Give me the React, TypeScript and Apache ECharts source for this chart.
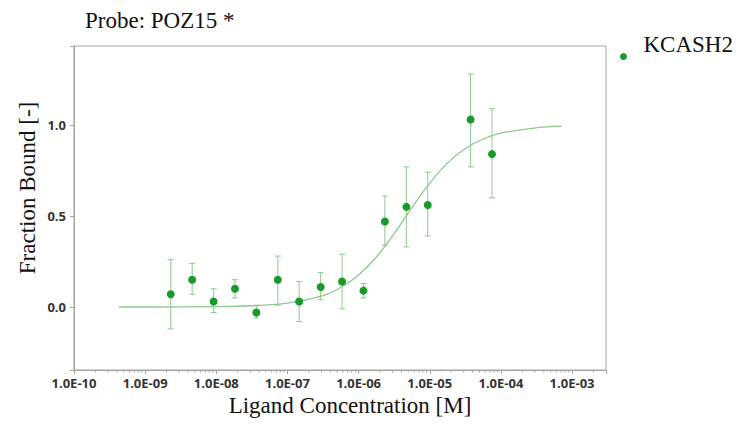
import React, { useEffect, useRef } from 'react';
import * as echarts from 'echarts';

// Ligand concentrations [M] (2-fold dilution series)
const concentrations = [2.29e-9, 4.58e-9, 9.16e-9, 1.83e-8, 3.66e-8, 7.32e-8, 1.46e-7, 2.93e-7, 5.86e-7, 1.17e-6, 2.34e-6, 4.69e-6, 9.38e-6, 3.75e-5, 7.5e-5];
const fractionBound = [0.07, 0.15, 0.03, 0.10, -0.03, 0.15, 0.03, 0.11, 0.14, 0.09, 0.47, 0.55, 0.56, 1.03, 0.84];
const errLow = [-0.12, 0.07, -0.03, 0.05, -0.06, 0.01, -0.08, 0.04, -0.01, 0.05, 0.34, 0.33, 0.39, 0.77, 0.60];
const errHigh = [0.26, 0.24, 0.10, 0.15, 0.01, 0.28, 0.14, 0.19, 0.29, 0.13, 0.61, 0.77, 0.74, 1.28, 1.09];

// Fit curve
const fitConc = [4.3e-10, 1e-9, 1e-8, 3.16e-8, 1e-7, 3.16e-7, 5.62e-7, 1e-6, 1.78e-6, 3.16e-6, 5.62e-6, 1e-5, 1.78e-5, 3.16e-5, 5.62e-5, 1e-4, 3.16e-4, 7.2e-4];
const fitFrac = [0.0, 0.0, 0.002, 0.007, 0.021, 0.063, 0.107, 0.176, 0.275, 0.403, 0.546, 0.681, 0.792, 0.871, 0.923, 0.955, 0.985, 0.994];

// Axis settings
const xMin = 1e-10;
const xMax = 3.0e-3;
const yMin = -0.346;
const yMax = 1.434;
const minorDecades = [-10, -9, -8, -7, -6, -5, -4, -3];
const minorMultipliers = [2, 3, 4, 5, 6, 7, 8, 9];

const seriesName = 'KCASH2';
const titleText = 'Probe: POZ15 *';
const xName = 'Ligand Concentration [M]';
const yName = 'Fraction Bound [-]';

const POINT = '#169a28';
const LIGHT = '#8fc68f';
const AXIS = '#a3a3a3';
const SERIF = '"Liberation Serif", "Times New Roman", serif';
const SANS = '"Open Sans", "Liberation Sans", sans-serif';

export default function App() {
  const ref = useRef<HTMLDivElement>(null);

  useEffect(() => {
    if (!ref.current) return;
    const chart = echarts.init(ref.current, undefined, { renderer: 'svg' });

    const minorTicks: number[][] = [];
    minorDecades.forEach((d) => {
      minorMultipliers.forEach((m) => {
        const v = m * Math.pow(10, d);
        if (v > xMin && v < xMax * 0.99) minorTicks.push([v, yMin]);
      });
    });

    const option: any = {
      animation: false,
      title: {
        text: titleText,
        left: 85,
        top: 9,
        padding: 0,
        textStyle: { fontFamily: SERIF, fontSize: 23, fontWeight: 'normal', color: '#111' },
      },
      legend: {
        data: [seriesName],
        left: 620,
        top: 33,
        padding: 0,
        icon: 'circle',
        itemWidth: 30,
        itemHeight: 7,
        selectedMode: false,
        formatter: '{a|{name}}',
        textStyle: {
          fontFamily: SERIF,
          fontSize: 23,
          color: '#111',
          rich: {
            a: { fontFamily: SERIF, fontSize: 23, color: '#111', padding: [0, 0, 24, 0] },
          },
        },
      },
      grid: {
        left: 74,
        right: 132,
        top: 46,
        bottom: 55,
        show: true,
        borderColor: AXIS,
        borderWidth: 1,
        containLabel: false,
      },
      xAxis: {
        type: 'log',
        logBase: 10,
        min: xMin,
        max: xMax,
        axisLine: { show: true, onZero: false, lineStyle: { color: AXIS, width: 1 } },
        axisTick: { show: true, length: 4, lineStyle: { color: AXIS } },
        splitLine: { show: false },
        axisLabel: {
          margin: 6,
          fontFamily: SANS,
          fontSize: 13,
          fontWeight: 'bold',
          color: '#333',
          formatter: (v: number) => {
            const l = Math.log10(v);
            const e = Math.round(l);
            if (Math.abs(l - e) > 1e-6) return '';
            return '1.0E' + (e < 0 ? '-' : '+') + String(Math.abs(e)).padStart(2, '0');
          },
        },
      },
      yAxis: {
        type: 'value',
        min: yMin,
        max: yMax,
        splitNumber: 3,
        axisLine: { show: true, onZero: false, lineStyle: { color: AXIS, width: 1 } },
        axisTick: { show: true, length: 4, lineStyle: { color: AXIS } },
        splitLine: { show: false },
        axisLabel: {
          margin: 8,
          fontFamily: SANS,
          fontSize: 13,
          fontWeight: 'bold',
          color: '#333',
          formatter: (v: number) => {
            if (Math.abs(v * 2 - Math.round(v * 2)) > 1e-6) return '';
            return v.toFixed(1);
          },
        },
      },
      graphic: [
        {
          type: 'text',
          x: 27,
          y: 188,
          rotation: Math.PI / 2,
          style: {
            text: yName,
            fontFamily: SERIF,
            fontSize: 23,
            fill: '#111',
            textAlign: 'center',
            textVerticalAlign: 'middle',
          },
        },
        {
          type: 'text',
          x: 350,
          y: 405,
          style: {
            text: xName,
            fontFamily: SERIF,
            fontSize: 23,
            fill: '#111',
            textAlign: 'center',
            textVerticalAlign: 'middle',
          },
        },
      ],
      series: [
        {
          type: 'custom',
          name: 'minorTicks',
          silent: true,
          clip: false,
          data: minorTicks,
          encode: { x: 0, y: 1 },
          renderItem: (_p: any, api: any) => {
            const p = api.coord([api.value(0), api.value(1)]);
            return {
              type: 'line',
              shape: { x1: p[0], y1: p[1], x2: p[0], y2: p[1] + 2.5 },
              style: { stroke: AXIS, lineWidth: 1 },
            };
          },
          z: 1,
        },
        {
          type: 'line',
          name: 'fit',
          data: fitConc.map((c, i) => [c, fitFrac[i]]),
          showSymbol: false,
          smooth: 0.4,
          lineStyle: { color: LIGHT, width: 1.3 },
          silent: true,
          z: 2,
        },
        {
          type: 'custom',
          name: 'errors',
          silent: true,
          data: concentrations.map((c, i) => [c, errLow[i], errHigh[i]]),
          encode: { x: 0, y: [1, 2] },
          renderItem: (_p: any, api: any) => {
            const x = api.value(0);
            const lo = api.coord([x, api.value(1)]);
            const hi = api.coord([x, api.value(2)]);
            const cap = 3;
            const style = { stroke: LIGHT, lineWidth: 1 };
            return {
              type: 'group',
              children: [
                { type: 'line', shape: { x1: lo[0], y1: lo[1], x2: hi[0], y2: hi[1] }, style },
                { type: 'line', shape: { x1: lo[0] - cap, y1: lo[1], x2: lo[0] + cap, y2: lo[1] }, style },
                { type: 'line', shape: { x1: hi[0] - cap, y1: hi[1], x2: hi[0] + cap, y2: hi[1] }, style },
              ],
            };
          },
          z: 3,
        },
        {
          type: 'scatter',
          name: seriesName,
          data: concentrations.map((c, i) => [c, fractionBound[i]]),
          symbol: 'circle',
          symbolSize: 8,
          itemStyle: { color: POINT, opacity: 1 },
          z: 4,
        },
      ],
    };

    chart.setOption(option);
    return () => chart.dispose();
  }, []);

  return (
    <div
      ref={ref}
      style={{ position: 'absolute', left: 0, top: 0, width: 738, height: 425, background: '#fff' }}
    />
  );
}
